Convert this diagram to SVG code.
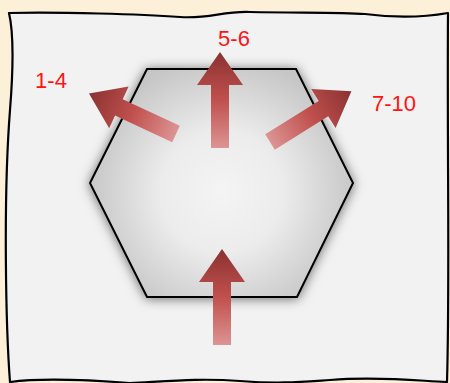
<svg xmlns="http://www.w3.org/2000/svg" width="450" height="383" viewBox="0 0 450 383">
<defs>
<radialGradient id="hexFill" gradientUnits="userSpaceOnUse" cx="222" cy="192" r="135">
<stop offset="0" stop-color="#f4f4f4"/>
<stop offset="0.45" stop-color="#ececec"/>
<stop offset="1" stop-color="#c6c6c6"/>
</radialGradient>
<linearGradient id="arrowFill" x1="0" y1="1" x2="0" y2="0">
<stop offset="0" stop-color="#dc9494"/>
<stop offset="0.5" stop-color="#c0504d"/>
<stop offset="1" stop-color="#8a3232"/>
</linearGradient>
<filter id="shadow" x="-20%" y="-20%" width="140%" height="140%">
<feDropShadow dx="0" dy="1" stdDeviation="6" flood-color="#000" flood-opacity="0.55"/>
</filter>
<path id="arrow" d="M -9,0 L -9,-63 L -23,-63 L 0,-96 L 23,-63 L 9,-63 L 9,0 Z"/>
</defs>
<style>
.lbl { font-family: "Liberation Sans", Arial, sans-serif; font-size: 22px; fill: #ff1414; text-anchor: middle; }
.arr { fill: url(#arrowFill); }
</style>
<rect width="450" height="383" fill="#fcf0d8"/>
<g id="panel">
<path d="M 9,13 C 60,12 140,14 180,17 C 210,19 222,11 250,12 C 300,13 340,12 365,14 C 395,18 420,18 448,13 C 447,150 450,280 447,382 C 420,381 380,376 330,380 C 300,382 280,384 240,381 C 200,378 170,381 130,383 C 90,380 40,378 10,382 C 6,330 3,200 10,110 C 14,60 13,30 9,13 Z" fill="#f2f2f2" stroke="#000" stroke-width="2.2" stroke-linejoin="round"/>
</g>
<g id="hexagon">
<polygon points="147,69 296,69 353,183 297,297 147,297 90,183" fill="url(#hexFill)" stroke="#000" stroke-width="2" filter="url(#shadow)"/>
</g>
<g id="connectors">
<use href="#arrow" class="arr" transform="translate(220,148)"/>
<use href="#arrow" class="arr" transform="translate(222,345)"/>
<use href="#arrow" class="arr" transform="translate(176,134) rotate(-65)"/>
<use href="#arrow" class="arr" transform="translate(270,142) rotate(58)"/>
</g>
<g id="labels">
<text class="lbl" x="234" y="46">5-6</text>
<text class="lbl" x="51" y="88">1-4</text>
<text class="lbl" x="394" y="111">7-10</text>
</g>
</svg>
